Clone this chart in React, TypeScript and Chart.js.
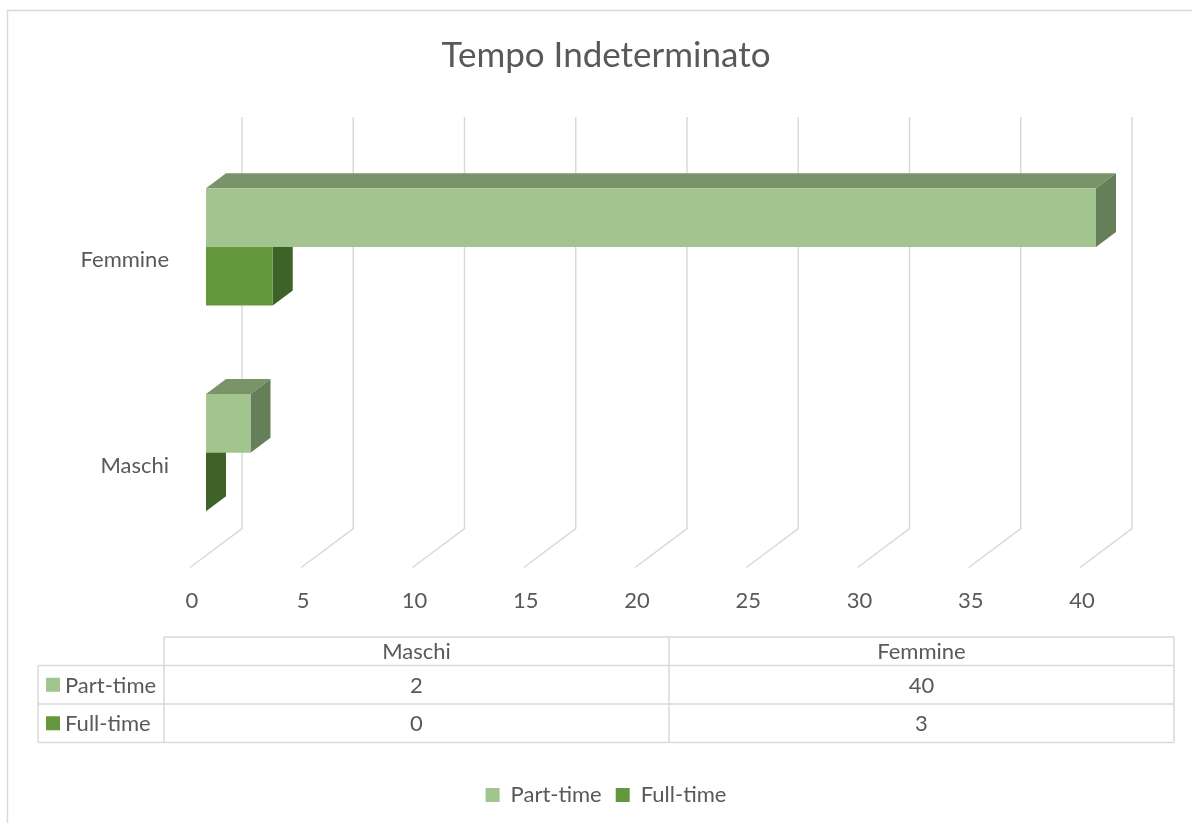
import React, { useEffect, useRef } from 'react';
import { Chart, registerables } from 'chart.js';

Chart.register(...registerables);

// ---------- data ----------
const categories = ['Maschi', 'Femmine'];
const seriesNames = ['Part-time', 'Full-time'];
const partTime = [2, 40];
const fullTime = [0, 3];
const xTickValues = [0, 5, 10, 15, 20, 25, 30, 35, 40];
const chartTitle = 'Tempo Indeterminato';

// ---------- styles ----------
const FONT = 'Lato';
const TEXT = '#595959';
const GRID = '#D9D9D9';
const frontColors = ['#A2C48F', '#63993C'];
const topColors = ['#7A946A', '#4C7A2E'];
const sideColors = ['#657F59', '#3F6229'];

const W = 1192;
const H = 823;
const AREA_LEFT = 206;
const AREA_BOTTOM = 555.5;
const PAD_BOTTOM = 7;
const PAD_LEFT = 116;
const PAD_RIGHT = 96;
const SLOPE = 0.75;
const DEPTH_BAR = 20;
const DEPTH_BACK = 36;
const DEPTH_FRONT = -16;
const SMALL = 22;
const CAT_LABEL_RIGHT = 169;

const threeDPlugin = {
  id: 'threeD',
  beforeDraw(chart: any) {
    const { ctx } = chart;
    ctx.save();
    ctx.strokeStyle = GRID;
    ctx.lineWidth = 1.5;
    ctx.beginPath();
    ctx.moveTo(7.5, H);
    ctx.lineTo(7.5, 10.5);
    ctx.lineTo(W, 10.5);
    ctx.stroke();
    ctx.restore();
  },
  beforeDatasetsDraw(chart: any) {
    const { ctx, chartArea, scales } = chart;
    const xs = scales.x;
    const ys = scales.y;
    ctx.save();
    // category labels (front floor plane)
    ctx.fillStyle = TEXT;
    ctx.font = `${SMALL}px ${FONT}`;
    ctx.textAlign = 'right';
    ctx.textBaseline = 'middle';
    categories.forEach((c, i) => {
      ctx.fillText(c, CAT_LABEL_RIGHT, ys.getPixelForValue(i) - DEPTH_FRONT * SLOPE + 1);
    });
    // back-wall gridlines and floor lines
    ctx.strokeStyle = GRID;
    ctx.lineWidth = 1.5;
    const bdx = DEPTH_BACK, bdy = -DEPTH_BACK * SLOPE;
    const fdx = DEPTH_FRONT, fdy = -DEPTH_FRONT * SLOPE;
    xs.ticks.forEach((t: any) => {
      const px = xs.getPixelForValue(t.value);
      ctx.beginPath();
      ctx.moveTo(px + bdx, chartArea.top + bdy);
      ctx.lineTo(px + bdx, chartArea.bottom + bdy);
      ctx.lineTo(px + fdx, chartArea.bottom + fdy);
      ctx.stroke();
    });
    // top and side faces of the bars
    const dx = DEPTH_BAR, dy = -DEPTH_BAR * SLOPE;
    chart.data.datasets.forEach((ds: any, di: number) => {
      const meta = chart.getDatasetMeta(di);
      meta.data.forEach((bar: any) => {
        const { x, y, base, height } = bar.getProps(['x', 'y', 'base', 'height'], true);
        const top = y - height / 2;
        const bottom = y + height / 2;
        ctx.fillStyle = topColors[di];
        ctx.beginPath();
        ctx.moveTo(base, top);
        ctx.lineTo(x, top);
        ctx.lineTo(x + dx, top + dy);
        ctx.lineTo(base + dx, top + dy);
        ctx.closePath();
        ctx.fill();
        ctx.fillStyle = sideColors[di];
        ctx.beginPath();
        ctx.moveTo(x, top);
        ctx.lineTo(x + dx, top + dy);
        ctx.lineTo(x + dx, bottom + dy);
        ctx.lineTo(x, bottom);
        ctx.closePath();
        ctx.fill();
      });
    });
    ctx.restore();
  },
  afterDraw(chart: any) {
    const { ctx } = chart;
    const L = 38, C1 = 164, C2 = 669, R = 1174;
    const Y0 = 637, Y1 = 665.5, Y2 = 704, Y3 = 742.5;
    ctx.save();
    ctx.strokeStyle = GRID;
    ctx.lineWidth = 1.5;
    const line = (x1: number, y1: number, x2: number, y2: number) => {
      ctx.beginPath();
      ctx.moveTo(x1, y1);
      ctx.lineTo(x2, y2);
      ctx.stroke();
    };
    line(C1, Y0, R, Y0);
    line(L, Y1, R, Y1);
    line(L, Y2, R, Y2);
    line(L, Y3, R, Y3);
    line(L, Y1, L, Y3);
    line(C1, Y0, C1, Y3);
    line(C2, Y0, C2, Y3);
    line(R, Y0, R, Y3);

    ctx.fillStyle = TEXT;
    ctx.font = `${SMALL}px ${FONT}`;
    ctx.textBaseline = 'middle';
    ctx.textAlign = 'center';
    const colCenters = [(C1 + C2) / 2, (C2 + R) / 2];
    categories.forEach((c, i) => ctx.fillText(c, colCenters[i], (Y0 + Y1) / 2 + 1));
    const rows = [partTime, fullTime];
    const rowCenters = [(Y1 + Y2) / 2 + 1, (Y2 + Y3) / 2 + 1];
    rows.forEach((vals, r) => {
      vals.forEach((v, i) => {
        ctx.fillStyle = TEXT;
        ctx.textAlign = 'center';
        ctx.fillText(String(v), colCenters[i], rowCenters[r]);
      });
      ctx.fillStyle = frontColors[r];
      ctx.fillRect(46, rowCenters[r] - 8, 14, 14);
      ctx.fillStyle = TEXT;
      ctx.textAlign = 'left';
      ctx.fillText(seriesNames[r], 65, rowCenters[r]);
    });
    ctx.restore();
  },
};

export default function App() {
  const ref = useRef<HTMLCanvasElement | null>(null);
  useEffect(() => {
    if (!ref.current) return;
    const chart = new Chart(ref.current, {
      type: 'bar',
      data: {
        labels: categories,
        datasets: [
          { label: seriesNames[0], data: partTime, backgroundColor: frontColors[0], borderWidth: 0 },
          { label: seriesNames[1], data: fullTime, backgroundColor: frontColors[1], borderWidth: 0 },
        ],
      },
      options: {
        indexAxis: 'y',
        responsive: false,
        animation: false,
        events: [],
        categoryPercentage: 0.57,
        barPercentage: 1,
        layout: { padding: { top: 0, right: PAD_RIGHT, bottom: PAD_BOTTOM, left: PAD_LEFT } },
        scales: {
          x: {
            type: 'linear',
            min: 0,
            max: 40,
            afterBuildTicks: (s: any) => {
              s.ticks = xTickValues.map((v) => ({ value: v }));
            },
            afterFit: (s: any) => {
              const c = s.chart;
              const lh = c.legend ? c.legend.height : 0;
              s.height = c.height - PAD_BOTTOM - lh - AREA_BOTTOM;
            },
            grid: { display: false, drawTicks: false },
            border: { display: false },
            ticks: {
              labelOffset: DEPTH_FRONT + 2,
              padding: 32,
              color: TEXT,
              font: { family: FONT, size: SMALL },
            },
          },
          y: {
            type: 'category',
            reverse: true,
            afterFit: (s: any) => {
              s.width = AREA_LEFT - PAD_LEFT;
            },
            grid: { display: false, drawTicks: false },
            border: { display: false },
            ticks: { display: false },
          },
        },
        plugins: {
          title: {
            display: true,
            text: chartTitle,
            color: TEXT,
            font: { family: FONT, size: 35, weight: 'normal' },
            padding: { top: 35, bottom: 67 },
          },
          legend: {
            display: true,
            position: 'bottom',
            labels: {
              color: TEXT,
              font: { family: FONT, size: SMALL },
              boxWidth: 14,
              boxHeight: 14,
              padding: 14,
            },
          },
          tooltip: { enabled: false },
        },
      },
      plugins: [threeDPlugin],
    } as any);
    return () => chart.destroy();
  }, []);
  return (
    <div style={{ position: 'fixed', left: 0, top: 0, width: W, height: H, background: '#fff' }}>
      <canvas ref={ref} width={W} height={H} style={{ display: 'block' }} />
    </div>
  );
}
